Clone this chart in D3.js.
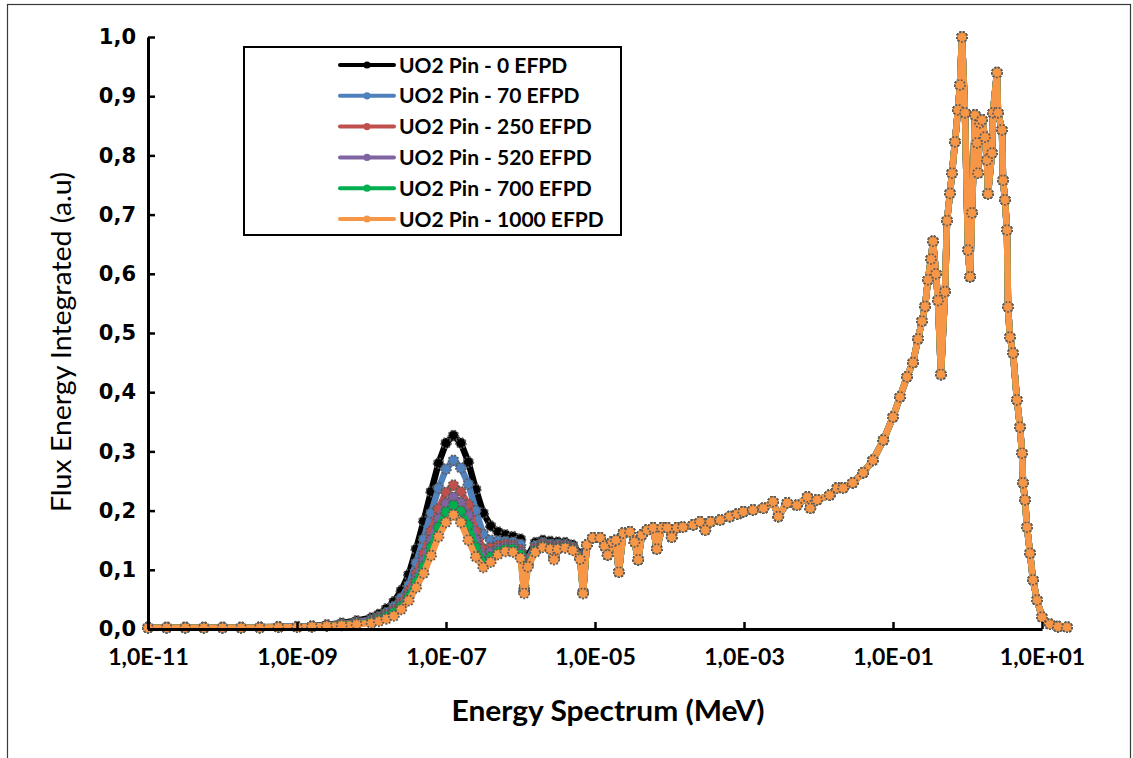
<!DOCTYPE html>
<html>
<head>
<meta charset="utf-8">
<script src="https://cdn.jsdelivr.net/npm/d3@7"></script>
<style>
  body { margin: 0; background: #fff; }
  svg { display: block; }
</style>
</head>
<body>
<svg id="chart" width="1133" height="758"></svg>
<script>
// Series (burnup steps of the UO2 pin)
const seriesNames = [
  "UO2 Pin - 0 EFPD", "UO2 Pin - 70 EFPD", "UO2 Pin - 250 EFPD",
  "UO2 Pin - 520 EFPD", "UO2 Pin - 700 EFPD", "UO2 Pin - 1000 EFPD"
];
const seriesColors = ["#000000", "#4f81bd", "#c0504d", "#8064a2", "#00b050", "#f79646"];

// Thermal / low-epithermal part: energy exponents (log10 MeV), one value list per burnup step
const thermalExp = [
  -11, -10.75, -10.5, -10.25, -10, -9.75, -9.5, -9.25, -9.0,
  -8.8, -8.6, -8.4, -8.2, -8.0,
  -7.9, -7.8, -7.7, -7.6, -7.5, -7.4, -7.3, -7.2, -7.1, -7.0,
  -6.9, -6.8, -6.7, -6.6, -6.5, -6.4, -6.3, -6.2, -6.1, -6.0,
  -5.95, -5.9, -5.8, -5.7, -5.6, -5.55, -5.5, -5.4, -5.3, -5.2, -5.16
];
const flux0EFPD = [
  0.003, 0.003, 0.003, 0.003, 0.003, 0.003, 0.003, 0.004, 0.004,
  0.005, 0.007, 0.010, 0.014, 0.019,
  0.025, 0.034, 0.046, 0.065, 0.092, 0.135, 0.182, 0.232, 0.280, 0.314,
  0.327, 0.314, 0.282, 0.236, 0.196, 0.174, 0.164, 0.159, 0.156, 0.152,
  0.070, 0.124, 0.146, 0.150, 0.148, 0.131, 0.147, 0.146, 0.142, 0.127, 0.063
];
const flux70EFPD = [
  0.003, 0.003, 0.003, 0.003, 0.003, 0.003, 0.003, 0.003, 0.004,
  0.005, 0.006, 0.009, 0.012, 0.016,
  0.021, 0.028, 0.038, 0.052, 0.074, 0.112, 0.152, 0.196, 0.238, 0.270,
  0.285, 0.272, 0.245, 0.200, 0.160, 0.150, 0.149, 0.148, 0.147, 0.143,
  0.066, 0.118, 0.141, 0.146, 0.143, 0.126, 0.143, 0.143, 0.139, 0.124, 0.062
];
const flux250EFPD = [
  0.002, 0.002, 0.002, 0.002, 0.002, 0.002, 0.003, 0.003, 0.003,
  0.004, 0.006, 0.008, 0.011, 0.014,
  0.019, 0.025, 0.033, 0.045, 0.064, 0.094, 0.127, 0.165, 0.203, 0.231,
  0.243, 0.232, 0.210, 0.165, 0.135, 0.137, 0.141, 0.143, 0.142, 0.134,
  0.064, 0.113, 0.137, 0.143, 0.140, 0.123, 0.140, 0.141, 0.137, 0.122, 0.061
];
const flux520EFPD = [
  0.002, 0.002, 0.002, 0.002, 0.002, 0.002, 0.003, 0.003, 0.003,
  0.004, 0.005, 0.007, 0.010, 0.013,
  0.017, 0.023, 0.030, 0.041, 0.058, 0.086, 0.116, 0.150, 0.186, 0.212,
  0.223, 0.213, 0.192, 0.150, 0.123, 0.130, 0.136, 0.139, 0.139, 0.130,
  0.063, 0.110, 0.134, 0.141, 0.138, 0.121, 0.138, 0.139, 0.135, 0.120, 0.061
];
const flux700EFPD = [
  0.002, 0.002, 0.002, 0.002, 0.002, 0.002, 0.002, 0.003, 0.003,
  0.004, 0.005, 0.007, 0.009, 0.012,
  0.016, 0.021, 0.028, 0.038, 0.054, 0.080, 0.106, 0.138, 0.172, 0.198,
  0.209, 0.199, 0.175, 0.138, 0.114, 0.122, 0.131, 0.135, 0.135, 0.126,
  0.062, 0.108, 0.132, 0.139, 0.136, 0.119, 0.136, 0.138, 0.134, 0.119, 0.060
];
const flux1000EFPD = [
  0.002, 0.002, 0.002, 0.002, 0.002, 0.002, 0.002, 0.003, 0.003,
  0.004, 0.005, 0.006, 0.008, 0.010,
  0.013, 0.017, 0.022, 0.033, 0.048, 0.070, 0.094, 0.124, 0.156, 0.180,
  0.193, 0.180, 0.150, 0.122, 0.104, 0.113, 0.126, 0.131, 0.130, 0.120,
  0.060, 0.105, 0.130, 0.138, 0.135, 0.117, 0.135, 0.137, 0.133, 0.118, 0.060
];

// Epithermal and fast part: identical for every burnup step
const fastExp = [
  -5.11, -5.03, -4.93, -4.87, -4.83, -4.77, -4.72, -4.68, -4.62, -4.53,
  -4.47, -4.42, -4.37, -4.30, -4.22, -4.17, -4.10, -4.03, -3.97, -3.90,
  -3.82, -3.68, -3.59, -3.52, -3.45, -3.32, -3.19, -3.09, -3.01, -2.88,
  -2.74, -2.61, -2.54, -2.42, -2.29, -2.15, -2.11, -2.02, -1.85, -1.75,
  -1.67, -1.54, -1.40, -1.27, -1.13, -1.00, -0.906, -0.812, -0.732, -0.664,
  -0.611, -0.570, -0.530, -0.490, -0.463, -0.423, -0.396, -0.356, -0.302, -0.275,
  -0.235, -0.208, -0.168, -0.128, -0.101, -0.074, -0.034, 0.007, 0.034, 0.060,
  0.101, 0.128, 0.141, 0.168, 0.195, 0.235, 0.262, 0.275, 0.329, 0.342,
  0.396, 0.409, 0.463, 0.477, 0.503, 0.530, 0.544, 0.570, 0.611, 0.664,
  0.705, 0.732, 0.745, 0.772, 0.799, 0.839, 0.879, 0.933, 1.0, 1.107,
  1.215, 1.336
];
const fastFlux = [
  0.142, 0.154, 0.154, 0.140, 0.125, 0.147, 0.150, 0.096, 0.162, 0.164,
  0.147, 0.117, 0.159, 0.167, 0.171, 0.135, 0.171, 0.171, 0.155, 0.171,
  0.172, 0.176, 0.181, 0.167, 0.181, 0.184, 0.190, 0.194, 0.198, 0.201,
  0.204, 0.215, 0.190, 0.213, 0.209, 0.223, 0.204, 0.218, 0.226, 0.238,
  0.238, 0.247, 0.264, 0.285, 0.319, 0.358, 0.392, 0.426, 0.450, 0.490,
  0.520, 0.545, 0.590, 0.625, 0.655, 0.600, 0.555, 0.430, 0.570, 0.690,
  0.736, 0.770, 0.823, 0.877, 0.919, 1.000, 0.872, 0.640, 0.595, 0.703,
  0.868, 0.821, 0.770, 0.855, 0.860, 0.831, 0.792, 0.735, 0.804, 0.872,
  0.940, 0.872, 0.843, 0.758, 0.725, 0.674, 0.544, 0.493, 0.466, 0.387,
  0.341, 0.297, 0.247, 0.218, 0.172, 0.128, 0.083, 0.049, 0.020, 0.008,
  0.004, 0.003
];

const thermalFlux = [flux0EFPD, flux70EFPD, flux250EFPD, flux520EFPD, flux700EFPD, flux1000EFPD];

// Axis ticks
const yTicks = [0, 0.1, 0.2, 0.3, 0.4, 0.5, 0.6, 0.7, 0.8, 0.9, 1.0];
const xTickExp = [-11, -9, -7, -5, -3, -1, 1];

const svg = d3.select("#chart");

// Outer chart frame
svg.append("rect")
  .attr("x", 7.5).attr("y", 4.5).attr("width", 1123).attr("height", 800)
  .attr("fill", "none").attr("stroke", "#3a3a3a").attr("stroke-width", 1.2);

const x = d3.scaleLog().domain([1e-11, 1e1]).range([148, 1042]);
const y = d3.scaleLinear().domain([0, 1]).range([629, 37]);

// Build point lists for every series
const series = seriesNames.map((name, i) => {
  const pts = thermalExp.map((e, k) => ({ e, v: thermalFlux[i][k] }))
    .concat(fastExp.map((e, k) => ({ e, v: fastFlux[k] })));
  return { name, color: seriesColors[i], pts };
});

const line = d3.line()
  .x(d => x(Math.pow(10, d.e)))
  .y(d => y(d.v));

const plot = svg.append("g");
series.forEach(s => {
  const g = plot.append("g");
  g.append("path")
    .attr("d", line(s.pts))
    .attr("fill", "none")
    .attr("stroke", s.color)
    .attr("stroke-width", 6.5)
    .attr("stroke-linejoin", "round");
  g.selectAll("circle").data(s.pts).join("circle")
    .attr("cx", d => x(Math.pow(10, d.e)))
    .attr("cy", d => y(d.v))
    .attr("r", 5)
    .attr("fill", s.color)
    .attr("stroke", "#5a5a5a")
    .attr("stroke-width", 1.7)
    .attr("stroke-dasharray", "1.8 1.6");
});

// Axes
const fmtX = v => {
  const e = Math.round(Math.log10(v));
  return "1,0E" + (e < 0 ? "-" : "+") + String(Math.abs(e)).padStart(2, "0");
};
const xAxis = svg.append("g")
  .attr("transform", "translate(0,629)")
  .call(d3.axisBottom(x)
    .tickValues(xTickExp.map(e => Math.pow(10, e)))
    .tickSize(-7).tickSizeOuter(0).tickPadding(20)
    .tickFormat(fmtX));
xAxis.select(".domain").attr("stroke", "#000").attr("stroke-width", 3);
xAxis.selectAll(".tick line").attr("stroke", "#000").attr("stroke-width", 2.5);
xAxis.selectAll(".tick text")
  .attr("fill", "#000")
  .style("font-family", "Lato, 'Open Sans', sans-serif")
  .style("font-weight", "bold")
  .style("font-size", "23px");

const yAxis = svg.append("g")
  .attr("transform", "translate(148,0)")
  .call(d3.axisLeft(y)
    .tickValues(yTicks)
    .tickSize(-7).tickSizeOuter(0).tickPadding(12)
    .tickFormat(d => d.toFixed(1).replace(".", ",")));
yAxis.select(".domain").attr("stroke", "#000").attr("stroke-width", 3);
yAxis.selectAll(".tick line").attr("stroke", "#000").attr("stroke-width", 2.5);
yAxis.selectAll(".tick text")
  .attr("fill", "#000")
  .style("font-family", "'DejaVu Sans', Verdana, sans-serif")
  .style("font-weight", "bold")
  .style("font-size", "21px");

// Axis titles
svg.append("text")
  .attr("x", 608).attr("y", 721)
  .attr("text-anchor", "middle")
  .attr("textLength", 313)
  .attr("lengthAdjust", "spacingAndGlyphs")
  .style("font-family", "Lato, 'Open Sans', sans-serif")
  .style("font-weight", "bold")
  .style("font-size", "28px")
  .text("Energy Spectrum (MeV)");

svg.append("text")
  .attr("transform", "translate(71,342) rotate(-90)")
  .attr("text-anchor", "middle")
  .attr("textLength", 340)
  .attr("lengthAdjust", "spacingAndGlyphs")
  .style("font-family", "Lato, 'Open Sans', sans-serif")
  .style("font-size", "27px")
  .text("Flux Energy Integrated (a.u)");

// Legend
const legend = svg.append("g");
legend.append("rect")
  .attr("x", 244).attr("y", 47).attr("width", 377).attr("height", 188)
  .attr("fill", "#fff").attr("stroke", "#000").attr("stroke-width", 2);
series.forEach((s, i) => {
  const ly = 65 + i * 30.8;
  legend.append("line")
    .attr("x1", 340).attr("x2", 394).attr("y1", ly).attr("y2", ly)
    .attr("stroke", s.color).attr("stroke-width", 4).attr("stroke-linecap", "round");
  legend.append("circle")
    .attr("cx", 367).attr("cy", ly).attr("r", 3.6).attr("fill", s.color);
  legend.append("text")
    .attr("x", 399).attr("y", ly).attr("dy", "0.36em")
    .style("font-family", "Lato, 'Open Sans', sans-serif")
    .style("font-weight", "bold")
    .style("font-size", "21px")
    .text(s.name);
});
</script>
</body>
</html>
